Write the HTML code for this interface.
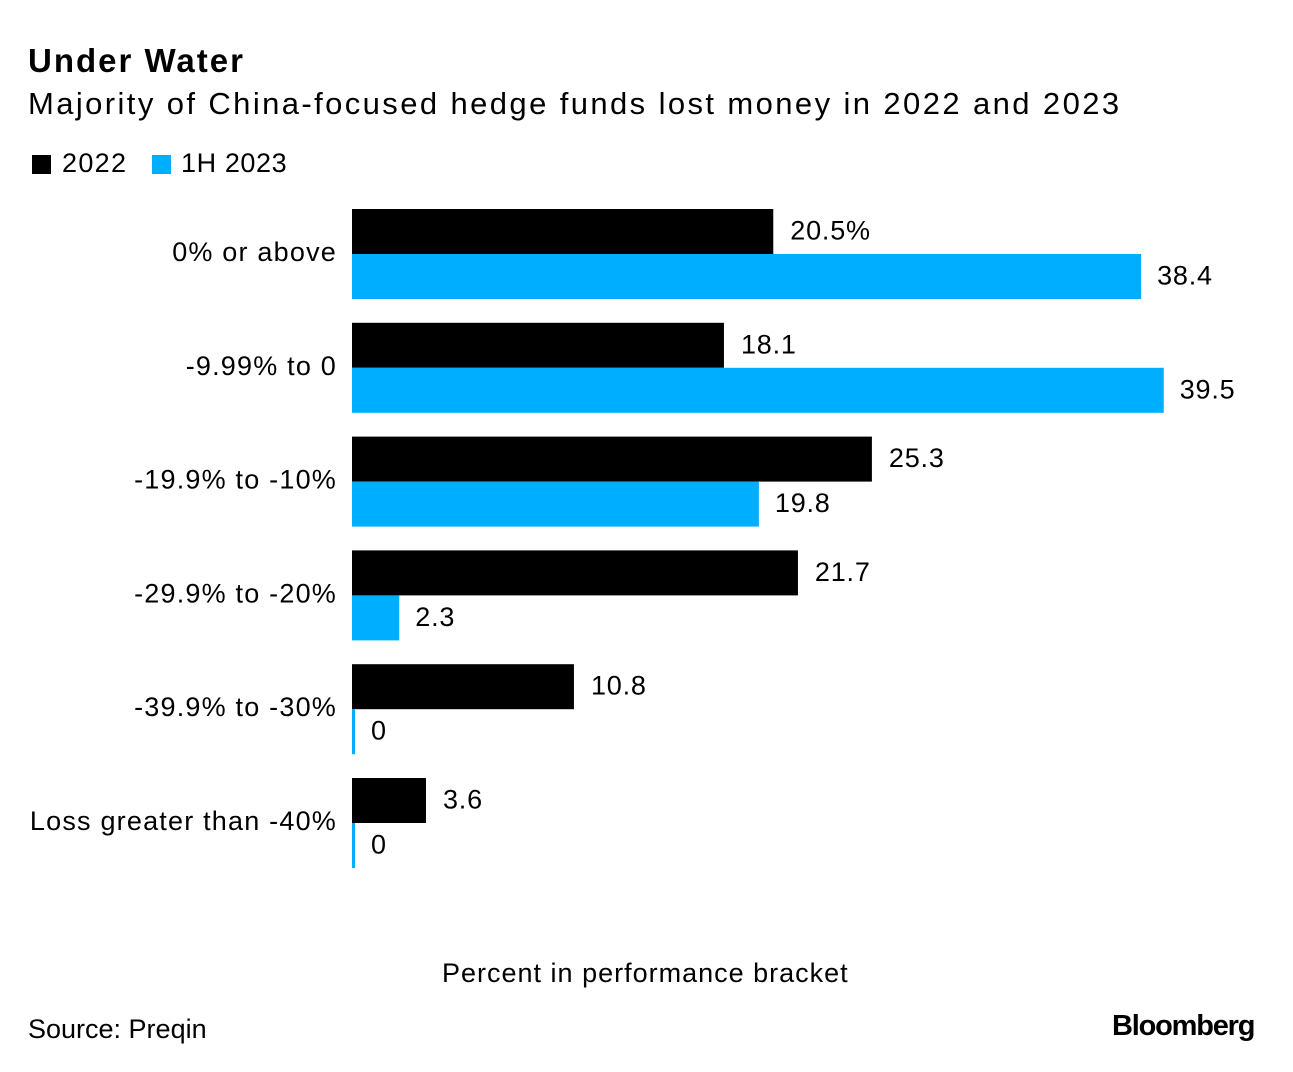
<!DOCTYPE html>
<html><head><meta charset="utf-8"><style>
html,body{margin:0;padding:0;background:#fff;}
body{width:1293px;height:1072px;position:relative;overflow:hidden;font-family:"Liberation Sans",sans-serif;color:#000;}
.t{position:absolute;white-space:nowrap;}
</style></head><body>
<div class="t" style="left:28px;top:42px;font-size:33px;font-weight:bold;letter-spacing:2px;">Under Water</div>
<div class="t" style="left:28px;top:86px;font-size:31px;letter-spacing:2.4px;">Majority of China-focused hedge funds lost money in 2022 and 2023</div>
<div style="position:absolute;left:32px;top:150px;height:28px;">
  <div style="position:absolute;left:0;top:0;">
    <div style="position:absolute;left:0;top:5px;width:19px;height:19px;background:#000;"></div>
    <div class="t" style="left:30px;top:-2px;font-size:27px;letter-spacing:1.3px;">2022</div>
  </div>
  <div style="position:absolute;left:120px;top:0;">
    <div style="position:absolute;left:0;top:5px;width:19px;height:19px;background:#00aeff;"></div>
    <div class="t" style="left:29px;top:-2px;font-size:27px;letter-spacing:0.6px;">1H 2023</div>
  </div>
</div>
<svg id="chart" width="1293" height="1072" style="position:absolute;left:0;top:0;"></svg>
<div class="t" style="left:442px;top:958px;font-size:27px;letter-spacing:1px;">Percent in performance bracket</div>
<div class="t" style="left:28px;top:1014px;font-size:27px;">Source: Preqin</div>
<div class="t" style="left:1112px;top:1010px;font-size:29px;font-weight:bold;letter-spacing:-1.2px;">Bloomberg</div>
<script>
const categories = ["0% or above","-9.99% to 0","-19.9% to -10%","-29.9% to -20%","-39.9% to -30%","Loss greater than -40%"];
const values2022 = [20.5,18.1,25.3,21.7,10.8,3.6];
const values2023 = [38.4,39.5,19.8,2.3,0,0];
const labels2022 = ["20.5%","18.1","25.3","21.7","10.8","3.6"];
const labels2023 = ["38.4","39.5","19.8","2.3","0","0"];

const svg = document.getElementById('chart');
const NS = 'http://www.w3.org/2000/svg';
const x0 = 352, pxPerUnit = 20.55;
const xScale = v => x0 + v * pxPerUnit;
const groupTop = i => 209 + i * 113.8;
const barH = 45;

function txt(x, y, s, anchor, name, ls) {
  const t = document.createElementNS(NS, 'text');
  t.setAttribute('x', x); t.setAttribute('y', y);
  t.setAttribute('font-size', '27');
  t.setAttribute('font-family', 'Liberation Sans, sans-serif');
  t.setAttribute('text-anchor', anchor);
  t.setAttribute('dominant-baseline', 'central');
  t.setAttribute('letter-spacing', ls);
  t.textContent = s;
  
  
  svg.appendChild(t);
}
function bar(v, y, color, name) {
  const r = document.createElementNS(NS, 'rect');
  const w = Math.max(xScale(v) - x0, 3);
  r.setAttribute('x', x0); r.setAttribute('y', y);
  r.setAttribute('width', w); r.setAttribute('height', barH);
  r.setAttribute('fill', color);
  
  
  svg.appendChild(r);
  return x0 + w;
}
categories.forEach((c, i) => {
  const y = groupTop(i);
  const e1 = bar(values2022[i], y, '#000', 'bar-2022-' + i);
  txt(e1 + 17, y + barH / 2 - 1, labels2022[i], 'start', 'value-label-2022-' + i, '0.8');
  const e2 = bar(values2023[i], y + barH, '#00aeff', 'bar-1h-2023-' + i);
  txt(e2 + 16, y + barH * 1.5 - 1, labels2023[i], 'start', 'value-label-1h-2023-' + i, '0.8');
  txt(337, y + barH - 2, c, 'end', 'category-label-' + i, '1.2');
});
</script>
</body></html>
